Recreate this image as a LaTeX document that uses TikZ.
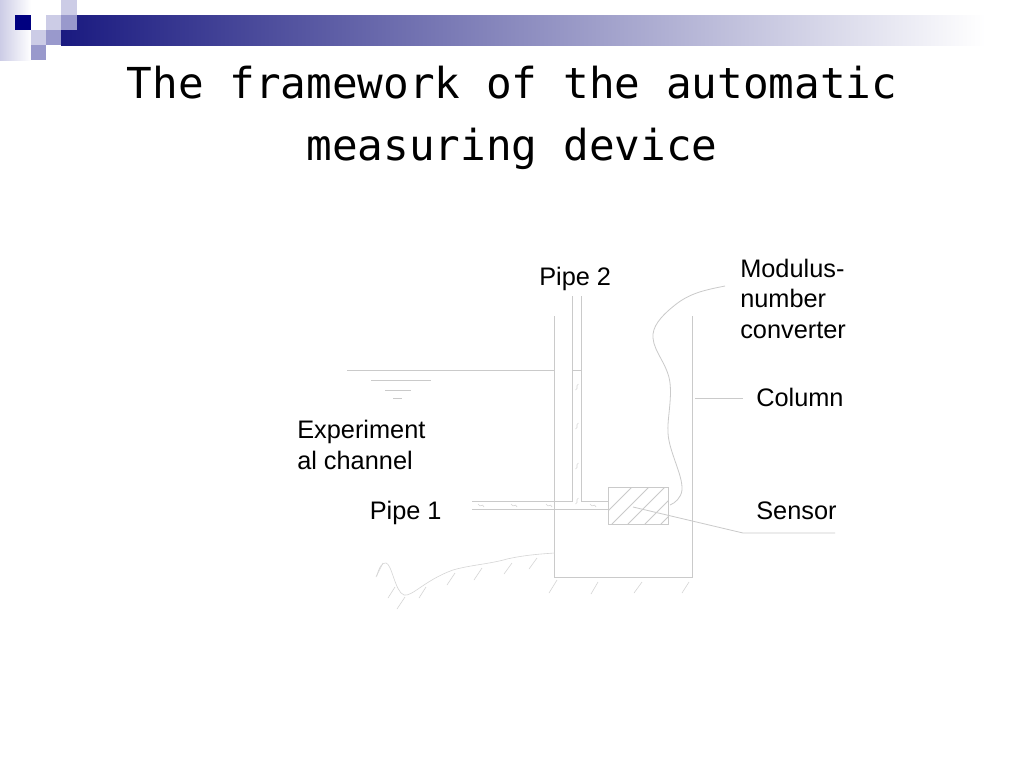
\documentclass[tikz,border=0pt]{standalone}
\usepackage{fontspec}
\setmainfont{Liberation Sans}
\newfontfamily\titlefont{DejaVu Sans Mono}
\definecolor{navy}{HTML}{000080}
\definecolor{bannerblue}{HTML}{1A1A80}
\definecolor{lightsq}{HTML}{CCCCE6}
\definecolor{midsq}{HTML}{9999CC}
\definecolor{linegrey}{HTML}{CACACA}
\tikzset{
  lab/.style={anchor=base west,inner sep=0pt,font=\fontsize{19pt}{22pt}\selectfont,text=black},
  ttl/.style={anchor=base,inner sep=0pt,font=\titlefont\fontsize{32pt}{38pt}\selectfont,text=black},
  ln/.style={draw=linegrey,line width=0.6pt},
  thin ln/.style={draw=linegrey!80,line width=0.45pt},
}
\begin{document}
\begin{tikzpicture}[x=0.75pt,y=-0.75pt]
\useasboundingbox (0,0) rectangle (1024,768);
\fill[white] (0,0) rectangle (1024,768);
% template decoration
\shade[left color=lightsq,right color=white,shading angle=90] (0,0) rectangle (31,60);
\shade[left color=bannerblue,right color=white] (61,15) rectangle (985,45);
\fill[navy] (15,15) rectangle (31,30);
\fill[lightsq] (46,15) rectangle (61,30);
\fill[midsq] (61,15) rectangle (77,30);
\fill[lightsq] (61,0) rectangle (77,15);
\fill[lightsq] (31,30) rectangle (46,45);
\fill[midsq] (46,30) rectangle (61,45);
\fill[midsq] (31,45) rectangle (46,60);
% title
\node[ttl] (t1) at (512,98) {The framework of the automatic};
\node[ttl] (t2) at (512,160) {measuring device};
% labels
\node[lab] (pipe2) at (539,285) {Pipe 2};
\node[lab] (mod1) at (740,277) {Modulus-};
\node[lab] (mod2) at (740,307.5) {number};
\node[lab] (mod3) at (740,338) {converter};
\node[lab] (column) at (756,406) {Column};
\node[lab] (exp1) at (297,438.5) {Experiment};
\node[lab] (exp2) at (297,469) {al channel};
\node[lab] (pipe1) at (369.5,519) {Pipe 1};
\node[lab] (sensor) at (756,519) {Sensor};
% named points
\coordinate (wallLtop) at (554.5,316);
\coordinate (wallLbot) at (554.5,577);
\coordinate (wallRtop) at (692.7,316);
\coordinate (wallRbot) at (692.7,577);
% column
\draw[ln] (wallLtop) -- (wallLbot) -- (wallRbot) -- (wallRtop);
% water level
\draw[ln] (347,370.7) -- (554.5,370.7);
\draw[ln] (572.5,370.7) -- (581.5,370.7);
\draw[ln] (371,380) -- (431,380);
\draw[ln] (385,390) -- (411,390);
\draw[ln] (393,398) -- (402,398);
% pipes
\draw[ln] (572.5,296) -- (572.5,501) -- (472,501);
\draw[ln] (581.5,296) -- (581.5,501) -- (608.3,501);
\draw[ln] (472,509.5) -- (608.3,509.5);
% pipe ticks
\foreach \y in {387,426,466,501}
  \draw[thin ln] (575.5,\y+3) .. controls (579,\y+1) and (575,\y-1) .. (578.5,\y-3);
\foreach \x in {481,514,549,593}
  \draw[thin ln] (\x-3,504) .. controls (\x,509) and (\x+1,502) .. (\x+3,507);
% sensor
\draw[ln] (608.3,487.3) rectangle (668.3,524);
\begin{scope}
\clip (608.3,487.3) rectangle (668.3,524);
\foreach \x in {595,612,628,645,661}
  \draw[ln] (\x,524) -- (\x+36.7,487.3);
\end{scope}
% cable
\draw[ln] (725,286) .. controls (705,290) and (690,293) .. (675,305)
  .. controls (660,317) and (652,327) .. (653,338)
  .. controls (654,352) and (668,365) .. (670,383)
  .. controls (672,400) and (667,420) .. (668,433)
  .. controls (669,452) and (683,475) .. (682,490)
  .. controls (681,498) and (675,503) .. (670,505);
% leaders
\draw[ln] (695,398) -- (743,398);
\draw[ln] (633,507) -- (743,533) -- (835,533);
% ground
\draw[thin ln] (376.7,576) .. controls (379,568) and (382,562) .. (386,563)
  .. controls (392,564) and (395,592) .. (404,595)
  .. controls (412,597) and (425,580) .. (453,570)
  .. controls (470,565) and (490,564) .. (507,559)
  .. controls (525,555) and (540,554) .. (554.5,553);
\foreach \a/\b/\c/\d in {383/563/376/577,395/587/388/598,405/597/397/609,426/587/419/598,455/573/447/585,482/568/474/580,512/563/504/574,537/558/529/569,557/580/549/593,598/582/591/594,642/582/634/593,689/582/682/593}
  \draw[thin ln] (\a,\b) -- (\c,\d);
\end{tikzpicture}
\end{document}
